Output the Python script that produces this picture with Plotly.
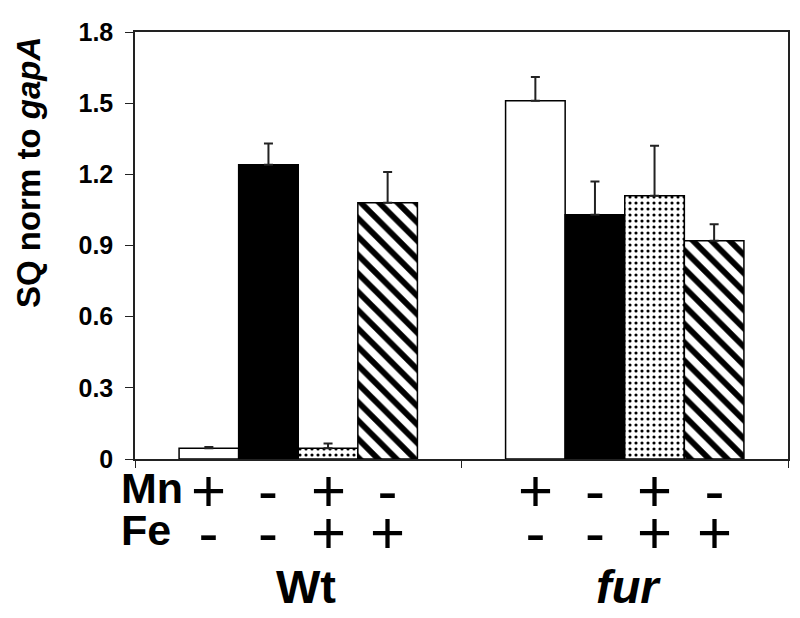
import plotly.graph_objects as go

strains = ["Wt", "fur"]
conditions = ["Mn+ Fe-", "Mn- Fe-", "Mn+ Fe+", "Mn- Fe+"]
mn_signs = ["+", "-", "+", "-"]
fe_signs = ["-", "-", "+", "+"]
values = {
    "Mn+ Fe-": [0.045, 1.51],
    "Mn- Fe-": [1.24, 1.03],
    "Mn+ Fe+": [0.045, 1.11],
    "Mn- Fe+": [1.08, 0.92],
}
errors = {
    "Mn+ Fe-": [0.006, 0.10],
    "Mn- Fe-": [0.09, 0.14],
    "Mn+ Fe+": [0.02, 0.21],
    "Mn- Fe+": [0.13, 0.07],
}
y_ticks = [0, 0.3, 0.6, 0.9, 1.2, 1.5, 1.8]
tick_text = ["0", "0.3", "0.6", "0.9", "1.2", "1.5", "1.8"]

styles = {
    "Mn+ Fe-": dict(color="white", pattern=dict(shape="")),
    "Mn- Fe-": dict(color="black", pattern=dict(shape="")),
    "Mn+ Fe+": dict(color="white", pattern=dict(shape=".", fgcolor="black", bgcolor="white",
                                                fgopacity=1, size=6, solidity=0.22)),
    "Mn- Fe+": dict(color="white", pattern=dict(shape="\\", fgcolor="black", bgcolor="white",
                                                fgopacity=1, size=13, solidity=0.45)),
}

font = "Liberation Sans, Arial, sans-serif"
bargap = 0.27

fig = go.Figure()
for c in conditions:
    s = styles[c]
    fig.add_trace(go.Bar(
        x=strains, y=values[c], name=c,
        marker=dict(color=s["color"], line=dict(color="black", width=1.5), pattern=s["pattern"]),
        error_y=dict(type="data", array=errors[c], arrayminus=[0] * len(strains),
                     symmetric=False, color="#222", thickness=2, width=4.5),
    ))

# Mn / Fe +/- under each bar, one two-line text per bar (line step = 1.3 * 32px)
sign = "<span style='font-size:60px'>%s</span>"
bw = (1 - bargap) / len(conditions)
ann = []
for i in range(len(strains)):
    for j in range(len(conditions)):
        xpos = i - (1 - bargap) / 2 + bw * (j + 0.5)
        ann.append(dict(x=xpos, y=-0.122, xref="x", yref="paper",
                        text=sign % mn_signs[j] + "<br>" + sign % fe_signs[j],
                        showarrow=False, font=dict(size=32, family=font, color="black"),
                        yanchor="middle"))
ann.append(dict(x=-0.0244, y=-0.1166, xref="paper", yref="paper",
                text="<b><span style='font-size:43px'>Mn</span><br>"
                     "<span style='font-size:43px'>Fe</span></b>",
                showarrow=False, xanchor="left", yanchor="middle", align="left",
                font=dict(size=32, family=font, color="black")))
ann.append(dict(x=0, y=-0.298, xref="x", yref="paper", text="<b>Wt</b>", xshift=8,
                showarrow=False, yanchor="middle", font=dict(size=47, family=font, color="black")))
ann.append(dict(x=1, y=-0.298, xref="x", yref="paper", text="<b><i>fur</i></b>", xshift=4,
                showarrow=False, yanchor="middle", font=dict(size=47, family=font, color="black")))
ann.append(dict(x=-0.162, y=0.67, xref="paper", yref="paper", text="<b>SQ norm to <i>gapA</i></b>",
                textangle=-90, showarrow=False, xanchor="center", yanchor="middle",
                font=dict(size=33, family=font, color="black")))

# page body has an 8px margin, so the figure is shrunk by that much
fig.update_layout(
    width=792, height=610,
    margin=dict(l=127, r=10, t=18, b=159),
    plot_bgcolor="white", paper_bgcolor="white",
    barmode="group", bargap=bargap, bargroupgap=0,
    showlegend=False,
    annotations=ann,
    xaxis=dict(showticklabels=False, showline=True, linecolor="#222", linewidth=1.5,
               mirror=True, ticks="outside", tickson="boundaries", ticklen=7,
               tickcolor="#222", range=[-0.5, 1.5]),
    yaxis=dict(range=[0, 1.8], tickvals=y_ticks, ticktext=tick_text, showgrid=False,
               zeroline=False, showline=True, linecolor="#222", linewidth=1.5, mirror=True,
               ticks="outside", ticklen=8, tickcolor="#222", ticklabelstandoff=7,
               tickfont=dict(size=25, family=font, color="black", weight="bold")),
)

fig.write_html("out.html")
